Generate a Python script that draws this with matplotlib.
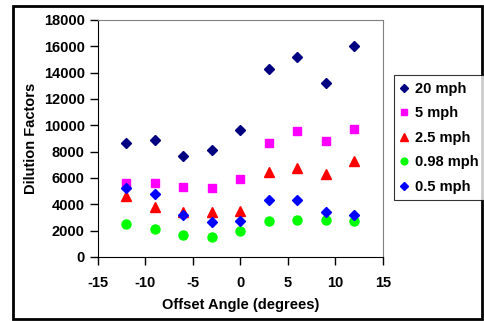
import matplotlib.pyplot as plt
from matplotlib.patches import Rectangle

plt.rcParams['font.family'] = ['Liberation Sans', 'DejaVu Sans']
plt.rcParams['font.weight'] = 'bold'
plt.rcParams['axes.unicode_minus'] = False

angles = [-12, -9, -6, -3, 0, 3, 6, 9, 12]

df_20 = [8650, 8850, 7680, 8150, 9620, 14250, 15200, 13200, 16000]
df_5 = [5620, 5640, 5300, 5230, 5900, 8680, 9570, 8790, 9750]
df_2_5 = [4650, 3780, 3400, 3400, 3520, 6480, 6780, 6330, 7290]
df_098 = [2530, 2130, 1650, 1540, 1970, 2710, 2810, 2810, 2710]
df_05 = [5260, 4810, 3210, 2680, 2760, 4300, 4300, 3440, 3170]

labels = ['20 mph', '5 mph', '2.5 mph', '0.98 mph', '0.5 mph']

fig = plt.figure(figsize=(4.84, 3.21), dpi=100)
ax = fig.add_axes([0.2025, 0.1994, 0.5885, 0.7383])

ax.plot(angles, df_20, 'D', color='#000080', ms=5.5, label=labels[0])
ax.plot(angles, df_5, 's', color='#FF00FF', ms=6, label=labels[1])
ax.plot(angles, df_2_5, '^', color='#FF0000', ms=7, label=labels[2])
ax.plot(angles, df_098, 'o', color='#00FF00', ms=6.5, label=labels[3])
ax.plot(angles, df_05, 'D', color='#0000FF', ms=5.5, label=labels[4])

ax.set_xlim(-15, 15)
ax.set_ylim(0, 18000)
ax.set_xticks(range(-15, 16, 5))
ax.set_yticks(range(0, 18001, 2000))
ax.tick_params(direction='out', length=5.5, width=1, labelsize=10.5)
ax.tick_params(axis='x', pad=8)
ax.tick_params(axis='y', pad=4)
for lab in ax.get_xticklabels() + ax.get_yticklabels():
    lab.set_fontweight('bold')

ax.spines['top'].set_color('#808080')
ax.spines['right'].set_color('#808080')

ax.set_xlabel('Offset Angle (degrees)', fontsize=10.5, fontweight='bold', labelpad=6)
ax.set_ylabel('Dilution Factors', fontsize=10.5, fontweight='bold', labelpad=4)

leg = fig.legend(loc='upper left', bbox_to_anchor=(0.814, 0.766), frameon=True,
                 fancybox=False, edgecolor='black', fontsize=10.5, handlelength=0.5,
                 handletextpad=0.5, borderpad=0.45, labelspacing=0.72, borderaxespad=0,
                 markerscale=0.75)
leg.get_frame().set_linewidth(0.8)
for t in leg.get_texts():
    t.set_fontweight('bold')

# outer chart border
fig.patches.append(Rectangle((0.026, 0.005), 0.97, 0.977, transform=fig.transFigure,
                             fill=False, edgecolor='black', linewidth=2))

fig.savefig('out.png', dpi=100)
